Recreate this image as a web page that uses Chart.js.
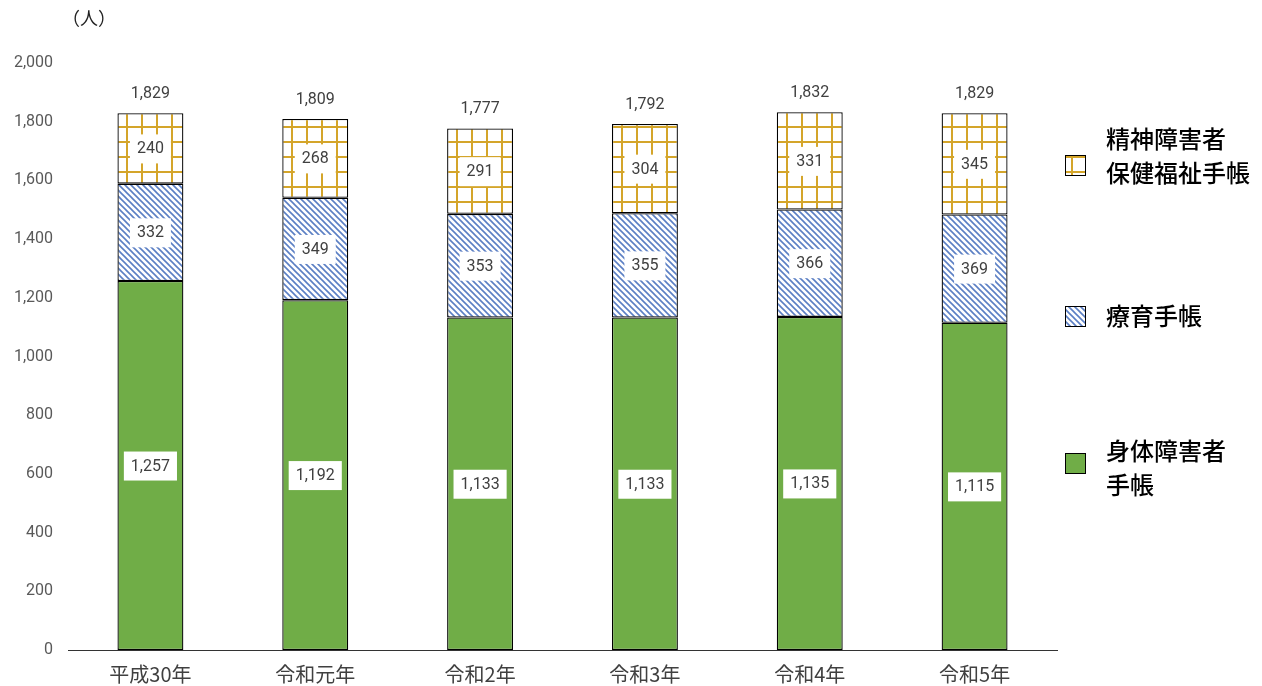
<!DOCTYPE html>
<html lang="ja">
<head>
<meta charset="utf-8">
<script src="https://cdn.jsdelivr.net/npm/chart.js@4"></script>
<style>
  html, body { margin: 0; padding: 0; background: #fff; }
  #wrap { width: 1262px; height: 686px; position: relative; }
</style>
</head>
<body>
<div id="wrap"><canvas id="handbookChart" width="1262" height="686"></canvas></div>
<script>
// 年度と手帳ごとの人数
const years = ['平成30年', '令和元年', '令和2年', '令和3年', '令和4年', '令和5年'];
const physical = [1257, 1192, 1133, 1133, 1135, 1115];
const rehab = [332, 349, 353, 355, 366, 369];
const mental = [240, 268, 291, 304, 331, 345];
const totals = [1829, 1809, 1777, 1792, 1832, 1829];
const yTicks = [0, 200, 400, 600, 800, 1000, 1200, 1400, 1600, 1800, 2000];

const FONT = 'Roboto, "Noto Sans CJK JP", sans-serif';
const JP_FONT = '"Noto Sans CJK JP", sans-serif';

// 格子模様（精神障害者保健福祉手帳）
function gridPattern() {
  const c = document.createElement('canvas');
  c.width = 15; c.height = 15;
  const g = c.getContext('2d');
  g.fillStyle = '#fff';
  g.fillRect(0, 0, 15, 15);
  g.fillStyle = '#D4A52A';
  g.fillRect(6, 0, 2, 15);
  g.fillRect(0, 6, 15, 2);
  return g.createPattern(c, 'repeat');
}

// 斜線模様（療育手帳）
function stripePattern() {
  const c = document.createElement('canvas');
  c.width = 6; c.height = 6;
  const g = c.getContext('2d');
  g.fillStyle = '#fff';
  g.fillRect(0, 0, 6, 6);
  g.strokeStyle = '#5B7FC4';
  g.lineWidth = 1.6;
  g.beginPath();
  g.moveTo(-3, -3); g.lineTo(9, 9);
  g.moveTo(-3, 3); g.lineTo(3, 9);
  g.moveTo(3, -3); g.lineTo(9, 3);
  g.stroke();
  return g.createPattern(c, 'repeat');
}

const legendItems = [
  { lines: ['精神障害者', '保健福祉手帳'], fill: 'grid', boxY: 155, textY: [139, 173] },
  { lines: ['療育手帳'], fill: 'stripe', boxY: 306, textY: [316] },
  { lines: ['身体障害者', '手帳'], fill: '#70AD47', boxY: 453, textY: [451, 485] }
];

// ラベル、合計、凡例を描くプラグイン
const labelPlugin = {
  id: 'labels',
  afterDatasetsDraw(chart) {
    const ctx = chart.ctx;
    ctx.save();
    ctx.font = '16px ' + FONT;
    ctx.textAlign = 'center';
    ctx.textBaseline = 'middle';
    chart.data.datasets.forEach((ds, di) => {
      const meta = chart.getDatasetMeta(di);
      meta.data.forEach((bar, i) => {
        const cy = (bar.y + bar.base) / 2;
        const txt = ds.data[i].toLocaleString('en-US');
        const w = ctx.measureText(txt).width + 14;
        ctx.fillStyle = '#fff';
        ctx.fillRect(bar.x - w / 2, cy - 14, w, 29);
        ctx.fillStyle = '#404040';
        ctx.fillText(txt, bar.x, cy + 1);
      });
    });
    const top = chart.getDatasetMeta(chart.data.datasets.length - 1);
    top.data.forEach((bar, i) => {
      ctx.fillStyle = '#404040';
      ctx.fillText(totals[i].toLocaleString('en-US'), bar.x, bar.y - 19);
    });

    // 単位
    ctx.font = '18px ' + JP_FONT;
    ctx.fillStyle = '#222';
    ctx.textAlign = 'left';
    ctx.fillText('（人）', 62, 18);

    // 凡例
    const pats = { grid: gridPattern(), stripe: stripePattern() };
    legendItems.forEach(it => {
      ctx.fillStyle = pats[it.fill] || it.fill;
      ctx.fillRect(1065, it.boxY, 21, 21);
      ctx.strokeStyle = '#000';
      ctx.lineWidth = 1;
      ctx.strokeRect(1065.5, it.boxY + 0.5, 20, 20);
      ctx.font = '500 24px ' + JP_FONT;
      ctx.fillStyle = '#000';
      it.lines.forEach((ln, k) => ctx.fillText(ln, 1106, it.textY[k]));
    });
    ctx.restore();
  }
};

const ctx = document.getElementById('handbookChart').getContext('2d');
const handbookChart = new Chart(ctx, {
  type: 'bar',
  data: {
    labels: years,
    datasets: [
      { label: '身体障害者手帳', data: physical, backgroundColor: '#70AD47' },
      { label: '療育手帳', data: rehab, backgroundColor: stripePattern() },
      { label: '精神障害者保健福祉手帳', data: mental, backgroundColor: gridPattern() }
    ].map(d => Object.assign(d, {
      borderColor: '#000',
      borderWidth: 1.3,
      borderSkipped: false,
      barPercentage: 0.4,
      categoryPercentage: 1
    }))
  },
  options: {
    responsive: false,
    animation: false,
    layout: { padding: { top: 63, right: 205, left: 0, bottom: 0 } },
    plugins: { legend: { display: false }, tooltip: { enabled: false } },
    scales: {
      x: {
        stacked: true,
        grid: { display: false },
        border: { display: true, color: '#333', width: 1 },
        ticks: { color: '#404040', font: { size: 20, family: JP_FONT }, padding: 4 },
        afterFit: s => { s.height = 36; }
      },
      y: {
        stacked: true,
        min: 0,
        max: 2000,
        afterBuildTicks: s => { s.ticks = yTicks.map(v => ({ value: v })); },
        grid: { display: false },
        border: { display: false },
        ticks: {
          color: '#595959',
          font: { size: 16, family: FONT },
          padding: 7,
          callback: v => v.toLocaleString('en-US')
        },
        afterFit: s => { s.width = 68; }
      }
    }
  },
  plugins: [labelPlugin]
});
</script>
</body>
</html>
